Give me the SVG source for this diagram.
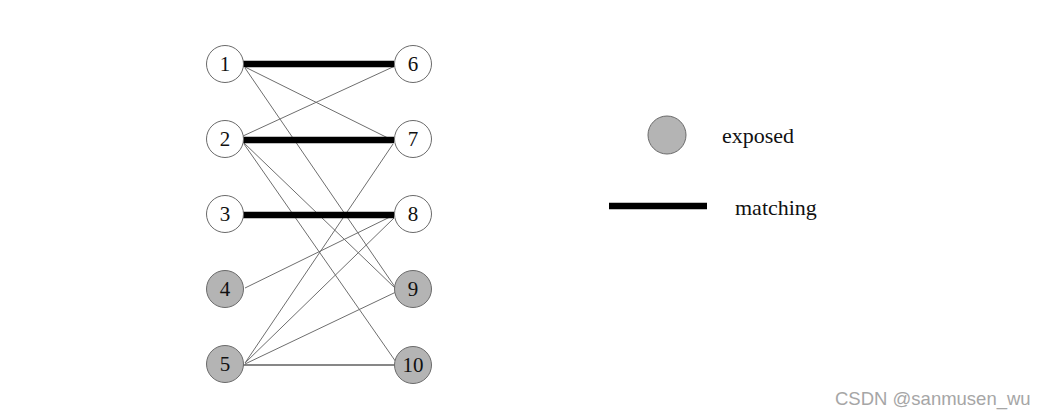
<svg xmlns="http://www.w3.org/2000/svg" width="1045" height="414" viewBox="0 0 1045 414">
<style>
.node circle{fill:#fff;stroke:#6a6a6a;stroke-width:1}
.node.exposed circle{fill:#b4b4b4}
.node text,.legend text{font-family:"Liberation Serif","Times New Roman",serif;font-size:21px;fill:#111;text-anchor:middle}
.legend text{font-size:22px;text-anchor:start}
.thin{stroke:#6e6e6e;stroke-width:1;fill:none}
.plain{stroke:#111;stroke-width:1.2;fill:none}
.match{stroke:#000;stroke-width:6.5;fill:none}
.wm{font-family:"Liberation Sans",Arial,sans-serif;font-size:18.5px;fill:#a6a6a6}
</style>
<rect width="1045" height="414" fill="#fff"/>
<g id="connectors">
<line class="thin" x1="245" y1="67" x2="394" y2="141"/>
<line class="thin" x1="245" y1="68" x2="395" y2="287"/>
<line class="thin" x1="243" y1="136" x2="395" y2="66"/>
<line class="thin" x1="244" y1="143" x2="395" y2="288"/>
<line class="thin" x1="244" y1="144" x2="396" y2="362"/>
<line class="thin" x1="245" y1="288" x2="392" y2="216"/>
<line class="thin" x1="245" y1="363" x2="393" y2="144"/>
<line class="thin" x1="245" y1="363" x2="394" y2="218"/>
<line class="thin" x1="245" y1="364" x2="396" y2="292"/>
<line class="plain" x1="243" y1="365" x2="394" y2="365"/>
<line class="match" x1="243" y1="64" x2="394" y2="64"/>
<line class="match" x1="243" y1="140" x2="394" y2="140"/>
<line class="match" x1="243" y1="215" x2="394" y2="215"/>
</g>
<g id="n1" class="node"><circle cx="225" cy="64" r="18.5"/><text x="225" y="71">1</text></g>
<g id="n2" class="node"><circle cx="225" cy="139" r="18.5"/><text x="225" y="146">2</text></g>
<g id="n3" class="node"><circle cx="225" cy="214" r="18.5"/><text x="225" y="221">3</text></g>
<g id="n4" class="node exposed"><circle cx="225" cy="289" r="18.5"/><text x="225" y="296">4</text></g>
<g id="n5" class="node exposed"><circle cx="225" cy="364" r="18.5"/><text x="225" y="371">5</text></g>
<g id="n6" class="node"><circle cx="413" cy="64" r="18.5"/><text x="413" y="71">6</text></g>
<g id="n7" class="node"><circle cx="413" cy="139" r="18.5"/><text x="413" y="146">7</text></g>
<g id="n8" class="node"><circle cx="413" cy="214" r="18.5"/><text x="413" y="221">8</text></g>
<g id="n9" class="node exposed"><circle cx="413" cy="289" r="18.5"/><text x="413" y="296">9</text></g>
<g id="n10" class="node exposed"><circle cx="413" cy="365" r="18.5"/><text x="413" y="372">10</text></g>
<g id="legend" class="legend">
<g id="legend-exposed" class="node exposed"><circle cx="667" cy="135" r="19"/></g>
<text x="722" y="143">exposed</text>
<line class="match" x1="609" y1="206" x2="707" y2="206"/>
<text x="735" y="215">matching</text>
</g>
<text class="wm" x="835" y="405">CSDN @sanmusen_wu</text>
</svg>
